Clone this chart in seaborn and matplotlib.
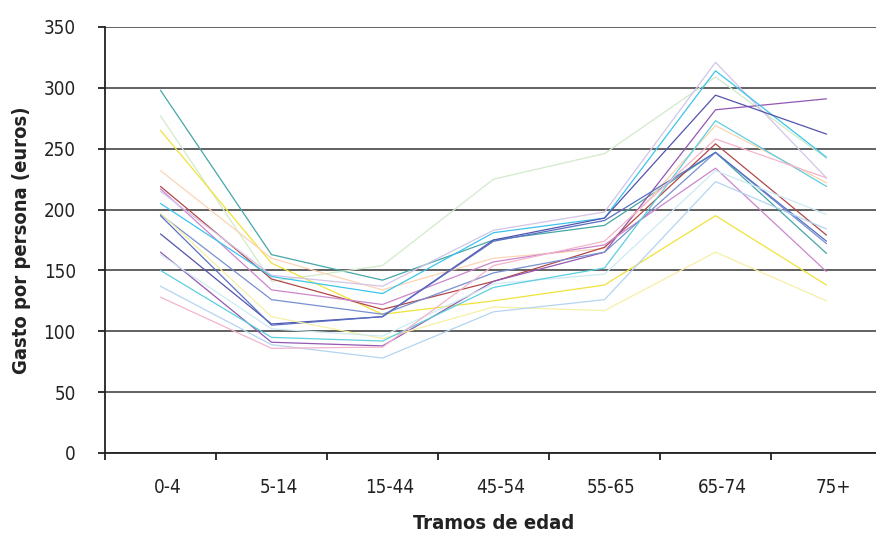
import matplotlib
matplotlib.use("Agg")
import matplotlib.pyplot as plt
import matplotlib.transforms as mtransforms
from matplotlib.ticker import FixedLocator, NullFormatter
import numpy as np
import pandas as pd
import seaborn as sns

# Age brackets (x categories)
categories = ["0-4", "5-14", "15-44", "45-54", "55-65", "65-74", "75+"]

# Spending per person (euros) for each series, one value per age bracket
serie_01 = [298, 163, 142, 175, 187, 247, 164]
serie_02 = [277, 141, 154, 225, 246, 309, 242]
serie_03 = [265, 156, 114, 125, 138, 195, 138]
serie_04 = [232, 160, 134, 160, 168, 269, 222]
serie_05 = [219, 143, 118, 141, 169, 254, 179]
serie_06 = [165, 91, 88, 141, 165, 282, 291]
serie_07 = [217, 134, 122, 157, 171, 234, 149]
serie_08 = [215, 146, 137, 183, 198, 321, 226]
serie_09 = [205, 145, 131, 181, 193, 314, 243]
serie_10 = [180, 106, 112, 175, 193, 294, 262]
serie_11 = [196, 126, 114, 148, 165, 247, 172]
serie_12 = [195, 105, 112, 174, 191, 247, 174]
serie_13 = [197, 112, 94, 120, 117, 165, 125]
serie_14 = [163, 102, 96, 139, 147, 232, 196]
serie_15 = [150, 95, 92, 136, 152, 273, 219]
serie_16 = [137, 89, 78, 116, 126, 223, 184]
serie_17 = [128, 86, 87, 154, 174, 258, 226]

series = {
    "serie_01": serie_01, "serie_02": serie_02, "serie_03": serie_03,
    "serie_04": serie_04, "serie_05": serie_05, "serie_06": serie_06,
    "serie_07": serie_07, "serie_08": serie_08, "serie_09": serie_09,
    "serie_10": serie_10, "serie_11": serie_11, "serie_12": serie_12,
    "serie_13": serie_13, "serie_14": serie_14, "serie_15": serie_15,
    "serie_16": serie_16, "serie_17": serie_17,
}

colors = {
    "serie_01": "#46a6a6", "serie_02": "#d2eacb", "serie_03": "#f0e23a",
    "serie_04": "#fbd4b4", "serie_05": "#b04848", "serie_06": "#9258b2",
    "serie_07": "#cc86cc", "serie_08": "#d4c4e8", "serie_09": "#3cc4ec",
    "serie_10": "#5353ae", "serie_11": "#7890d0", "serie_12": "#5870c2",
    "serie_13": "#f6f0a6", "serie_14": "#cdebf3", "serie_15": "#5ccfdf",
    "serie_16": "#b4d4f0", "serie_17": "#f4b4cc",
}

rows = []
for name, vals in series.items():
    for i, (cat, v) in enumerate(zip(categories, vals)):
        rows.append({"serie": name, "pos": i, "tramo": cat, "gasto": v})
df = pd.DataFrame(rows)

sns.set_theme(style="white")
plt.rcParams["font.family"] = ["DejaVu Sans"]
plt.rcParams["font.stretch"] = "condensed"

fig = plt.figure(figsize=(8.76, 5.34), dpi=100)
W, H = 876, 534
ax = fig.add_axes([105 / W, 1 - 453 / H, (882 - 105) / W, (453 - 27) / H])

sns.lineplot(data=df, x="pos", y="gasto", hue="serie", palette=colors,
             linewidth=0.9, legend=False, ax=ax, sort=False, zorder=3)

ax.set_xlim(-0.5, len(categories) - 0.5)
ax.set_ylim(0, 350)
ax.set_yticks(np.arange(0, 351, 50))
ax.yaxis.grid(True, color="#555555", linewidth=1.3, zorder=1)
ax.xaxis.grid(False)
ax.set_axisbelow(True)

# category labels centred, tick marks on the bracket boundaries
ax.set_xticks(range(len(categories)))
ax.set_xticklabels(categories)
ax.tick_params(axis="x", which="major", length=0, pad=18, labelsize=13.5,
               colors="#222222")
ax.xaxis.set_minor_locator(FixedLocator(np.arange(-0.5, len(categories), 1.0)))
ax.xaxis.set_minor_formatter(NullFormatter())
ax.tick_params(axis="x", which="minor", length=5, width=1.3, direction="out",
               color="#222222", bottom=True)
ax.tick_params(axis="y", length=5, width=1.3, direction="out", pad=16,
               labelsize=13.5, colors="#222222", left=True)

offset = mtransforms.ScaledTranslation(7 / 100, 0, fig.dpi_scale_trans)
for lab in ax.get_xticklabels():
    lab.set_transform(lab.get_transform() + offset)

for side in ["top", "right"]:
    ax.spines[side].set_visible(False)
for side in ["left", "bottom"]:
    ax.spines[side].set_color("#222222")
    ax.spines[side].set_linewidth(1.3)

ax.set_xlabel("Tramos de edad", fontsize=14.5, fontweight="bold",
              color="#222222", labelpad=12)
ax.set_ylabel("Gasto por persona (euros)", fontsize=14.5, fontweight="bold",
              color="#222222", labelpad=9)

fig.savefig("out.png", dpi=100, facecolor="white")
